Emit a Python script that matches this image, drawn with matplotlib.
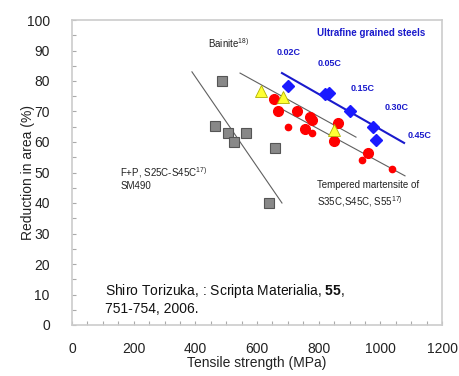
import numpy as np
import matplotlib
matplotlib.use('Agg')
import matplotlib.pyplot as plt

plt.rcParams['font.family'] = ['Liberation Sans', 'DejaVu Sans']
plt.rcParams['mathtext.fontset'] = 'custom'
plt.rcParams['mathtext.rm'] = 'Liberation Sans'
plt.rcParams['mathtext.bf'] = 'Liberation Sans:bold'

# data
fp_ts = [486, 464, 506, 525, 564, 658, 639]
fp_ra = [80.0, 65.2, 63.0, 60.0, 63.0, 58.0, 40.0]

bainite_ts = [613, 684, 850]
bainite_ra = [76.7, 74.8, 63.9]

tm_big_ts = [655, 668, 730, 772, 779, 756, 863, 850, 960]
tm_big_ra = [74.1, 70.2, 70.2, 68.2, 67.2, 64.3, 66.2, 60.3, 56.4]
tm_small_ts = [700, 779, 941, 1038]
tm_small_ra = [65.0, 63.0, 54.1, 51.1]

ufg_ts = [700, 820, 833, 902, 976, 986]
ufg_ra = [78.4, 75.7, 76.1, 70.2, 64.9, 60.7]

# trend lines (end points)
fp_line_x, fp_line_y = [389, 681], [83.0, 40.0]
tm_up_x, tm_up_y = [545, 921], [82.6, 61.6]
tm_lo_x, tm_lo_y = [675, 1080], [71.1, 48.9]
ufg_line_x, ufg_line_y = [681, 1077], [82.6, 59.7]

carbon_labels = ['0.02C', '0.05C', '0.15C', '0.30C', '0.45C']
carbon_x = [665, 795, 905, 1015, 1090]
carbon_y = [89.5, 86.0, 77.7, 71.5, 62.3]

fig = plt.figure(figsize=(4.59, 3.76), dpi=100)
ax = fig.add_axes([72/459, 51/376, 370/459, 305/376])

# lines
ax.plot(fp_line_x, fp_line_y, color='#606060', lw=0.8)
ax.plot(tm_up_x, tm_up_y, color='#606060', lw=0.8)
ax.plot(tm_lo_x, tm_lo_y, color='#606060', lw=0.8)
ax.plot(ufg_line_x, ufg_line_y, color='#1a1acc', lw=1.5)

# points
ax.plot(fp_ts, fp_ra, 's', ms=6.5, mfc='#888888', mec='#555555', mew=0.8)
ax.plot(tm_big_ts, tm_big_ra, 'o', ms=7, mfc='#ff0000', mec='#ff0000')
ax.plot(tm_small_ts, tm_small_ra, 'o', ms=4.5, mfc='#ff0000', mec='#ff0000')
ax.plot(bainite_ts, bainite_ra, '^', ms=9, mfc='#ffff33', mec='#b0b000', mew=0.6)
ax.plot(ufg_ts, ufg_ra, 'D', ms=6, mfc='#1a1aff', mec='#1a1aff')

# labels (baseline placed ~1.2 units under the visual centre for 7pt text)
small = dict(fontsize=7, va='baseline', color='#222222')
ax.text(795, 96 - 1.2, 'Ultrafine grained steels', color='#1a1acc', fontsize=7,
        fontweight='bold', va='baseline')
for lab, x, y in zip(carbon_labels, carbon_x, carbon_y):
    ax.text(x, y - 1.1, lab, color='#1a1acc', fontsize=6.5, fontweight='bold', va='baseline')

ax.text(441, 92 - 1.2, r'Bainite$^{\mathrm{18)}}$', **small)
ax.text(156, 50 - 1.2, r'F+P, S25C-S45C$^{\mathrm{17)}}$', **small)
ax.text(156, 45.7 - 1.2, 'SM490', **small)
ax.text(795, 46.2 - 1.2, 'Tempered martensite of', **small)
ax.text(795, 40.3 - 1.2, r'S35C,S45C, S55$^{\mathrm{17)}}$', **small)
ax.text(107, 11.5 - 1.7, r'Shiro Torizuka, : Scripta Materialia, $\mathbf{55}$,',
        fontsize=10, va='baseline', color='#111111')
ax.text(107, 5.6 - 1.7, '751-754, 2006.', fontsize=10, va='baseline', color='#111111')

ax.set_xlim(0, 1200)
ax.set_ylim(0, 100)
ax.set_xticks(np.arange(0, 1201, 200))
ax.set_xticks(np.arange(0, 1201, 50), minor=True)
ax.set_yticks(np.arange(0, 101, 10))
ax.set_yticks(np.arange(0, 101, 5), minor=True)
ax.tick_params(which='both', direction='in', color='#aaaaaa', length=3, width=0.8)
ax.tick_params(which='major', labelsize=10, labelcolor='#222222')
ax.tick_params(axis='x', pad=12)
ax.tick_params(axis='y', pad=16)
for s in ax.spines.values():
    s.set_color('#cccccc')
    s.set_linewidth(1.2)

ax.set_xlabel('Tensile strength (MPa)', fontsize=10, labelpad=0, color='#222222')
ax.set_ylabel('Reduction in area (%)', fontsize=10, labelpad=-6, color='#222222')

fig.savefig('out.png', dpi=100)
